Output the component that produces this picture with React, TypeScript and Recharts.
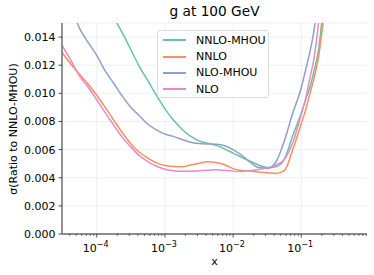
import { LineChart, Line, XAxis, YAxis, CartesianGrid, ReferenceLine, Legend, Customized } from "recharts";

// x grid (log spaced)
const xValues = [
  3.1e-5, 4.22e-5, 5.62e-5, 7.5e-5, 1e-4, 1.33e-4, 1.78e-4, 2.37e-4, 3.16e-4, 4.22e-4,
  5.62e-4, 7.5e-4, 1e-3, 1.33e-3, 1.78e-3, 2.37e-3, 3.16e-3, 4.22e-3, 5.62e-3, 7.5e-3,
  1e-2, 1.33e-2, 1.78e-2, 2.37e-2, 3.16e-2, 4.22e-2, 5.62e-2, 7.5e-2, 0.1, 0.115,
  0.133, 0.154, 0.178, 0.205, 0.237,
];

const nnloMhou = [
  null, null, null, null, null, 0.0166, 0.0154, 0.0143, 0.0131, 0.0119,
  0.0109, 0.00985, 0.0089, 0.0081, 0.00745, 0.00695, 0.00662, 0.00645, 0.0063, 0.00605,
  0.00575, 0.00545, 0.00517, 0.0049, 0.00472, 0.00478, 0.0053, 0.007, 0.0086, 0.0095,
  0.0104, 0.0116, 0.013, 0.0156, null,
];

const nnlo = [
  0.0129, 0.01205, 0.01134, 0.01064, 0.00986, 0.009, 0.00808, 0.0072, 0.00642, 0.00581,
  0.00539, 0.00506, 0.00487, 0.0048, 0.00478, 0.0049, 0.00503, 0.00514, 0.00508, 0.00492,
  0.00465, 0.00452, 0.00447, 0.0044, 0.00436, 0.0043, 0.0045, 0.006, 0.00786, 0.00877,
  0.00993, 0.0111, 0.0125, 0.0147, 0.0172,
];

const nloMhou = [
  null, 0.0161, 0.0146, 0.0136, 0.0127, 0.0116, 0.0107, 0.0098, 0.009, 0.0084,
  0.0078, 0.0074, 0.0071, 0.00694, 0.00672, 0.00652, 0.00643, 0.0064, 0.00638, 0.00628,
  0.006, 0.0056, 0.0051, 0.00472, 0.00466, 0.0051, 0.0066, 0.0086, 0.0104, 0.0116,
  0.0129, 0.0145, 0.0168, null, null,
];

const nlo = [
  0.0134, 0.0123, 0.0112, 0.01043, 0.00954, 0.00863, 0.00772, 0.00687, 0.00618, 0.00557,
  0.00515, 0.00482, 0.00461, 0.0045, 0.00446, 0.00446, 0.0045, 0.00454, 0.00456, 0.00451,
  0.00447, 0.00445, 0.0045, 0.00458, 0.0047, 0.0049, 0.0053, 0.0065, 0.00852, 0.00955,
  0.01105, 0.0125, 0.0149, 0.0175, null,
];

const series = [
  { key: "nnloMhou", name: "NNLO-MHOU", color: "#66c2a5" },
  { key: "nnlo", name: "NNLO", color: "#fc8d62" },
  { key: "nloMhou", name: "NLO-MHOU", color: "#8da0cb" },
  { key: "nlo", name: "NLO", color: "#e78ac3" },
];

const majorTicks = [1e-4, 1e-3, 1e-2, 1e-1];
const majorExp = ["-4", "-3", "-2", "-1"];
const minorTicks = [
  4e-5, 5e-5, 6e-5, 7e-5, 8e-5, 9e-5,
  2e-4, 3e-4, 4e-4, 5e-4, 6e-4, 7e-4, 8e-4, 9e-4,
  2e-3, 3e-3, 4e-3, 5e-3, 6e-3, 7e-3, 8e-3, 9e-3,
  2e-2, 3e-2, 4e-2, 5e-2, 6e-2, 7e-2, 8e-2, 9e-2,
  0.2, 0.3, 0.4, 0.5, 0.6, 0.7, 0.8, 0.9,
];
const yTicks = [0, 0.002, 0.004, 0.006, 0.008, 0.01, 0.012, 0.014];

const data = xValues.map((x, i) => ({
  x,
  nnloMhou: nnloMhou[i],
  nnlo: nnlo[i],
  nloMhou: nloMhou[i],
  nlo: nlo[i],
}));

const FONT = "DejaVu Sans, sans-serif";

const XTick = (props: any) => {
  const { x, y, payload } = props;
  const idx = majorTicks.findIndex((t) => Math.abs(t - payload.value) / t < 1e-6);
  if (idx < 0) {
    return <line x1={x} x2={x} y1={y} y2={y + 2} stroke="#222" strokeWidth={0.6} />;
  }
  return (
    <g>
      <line x1={x} x2={x} y1={y} y2={y + 3.5} stroke="#222" strokeWidth={0.8} />
      <text x={x - 14} y={y + 17.5} fontSize={11} fontFamily={FONT} fill="#000">
        10
        <tspan dy={-5} fontSize={8}>
          {"\u2212" + majorExp[idx].slice(1)}
        </tspan>
      </text>
    </g>
  );
};

const LegendBox = () => (
  <div
    style={{
      width: 112,
      height: 68,
      background: "rgba(255,255,255,0.85)",
      border: "1px solid #dcdcdc",
      borderRadius: 3,
      boxSizing: "border-box",
      paddingTop: 1,
      fontFamily: FONT,
      fontSize: 11,
    }}
  >
    {series.map((s) => (
      <div key={s.key} style={{ display: "flex", alignItems: "center", height: 16.4 }}>
        <div style={{ width: 23, height: 2, background: s.color, marginLeft: 5, marginRight: 10 }} />
        <span style={{ color: "#000" }}>{s.name}</span>
      </div>
    ))}
  </div>
);

const Texts = () => (
  <g fontFamily={FONT} fill="#000">
    <text x={214.5} y={16} fontSize={13.7} textAnchor="middle">
      g at 100 GeV
    </text>
    <text x={214.5} y={265} fontSize={11} textAnchor="middle">
      x
    </text>
    <text x={17} y={129} fontSize={11} textAnchor="middle" transform="rotate(-90 17 129)">
      σ(Ratio to NNLO-MHOU)
    </text>
  </g>
);

export default function App() {
  return (
    <div style={{ position: "absolute", left: 0, top: 0 }}>
      <LineChart width={374} height={275} data={data} margin={{ top: 23, right: 7, bottom: 0, left: 0 }}>
        <CartesianGrid vertical={false} stroke="#ebebeb" strokeWidth={0.8} />
        {majorTicks.map((t) => (
          <ReferenceLine key={t} x={t} stroke="#ebebeb" strokeWidth={0.8} />
        ))}
        <XAxis
          dataKey="x"
          type="number"
          scale="log"
          domain={[3.09e-5, 0.92]}
          allowDataOverflow
          ticks={[...minorTicks, ...majorTicks].sort((a, b) => a - b)}
          interval={0}
          tickLine={false}
          tickSize={0}
          tickMargin={0}
          tick={<XTick />}
          height={41}
          stroke="#222"
          strokeWidth={1}
        />
        <YAxis
          type="number"
          domain={[0, 0.015]}
          allowDataOverflow
          ticks={yTicks}
          tickFormatter={(v: number) => v.toFixed(3)}
          width={62}
          tickSize={3.5}
          tickMargin={3}
          tick={{ fontSize: 11, fontFamily: FONT, fill: "#000" }}
          tickLine={{ stroke: "#222", strokeWidth: 0.8 }}
          stroke="#777"
          strokeWidth={1.6}
        />
        {series.map((s) => (
          <Line
            key={s.key}
            dataKey={s.key}
            name={s.name}
            type="monotone"
            stroke={s.color}
            strokeWidth={1.5}
            dot={false}
            isAnimationActive={false}
          />
        ))}
        <Legend
          layout="vertical"
          align="center"
          verticalAlign="middle"
          content={<LegendBox />}
          wrapperStyle={{ position: "absolute", left: 157, top: 30, width: 112, height: 68 }}
        />
        <Customized component={<Texts />} />
      </LineChart>
    </div>
  );
}
